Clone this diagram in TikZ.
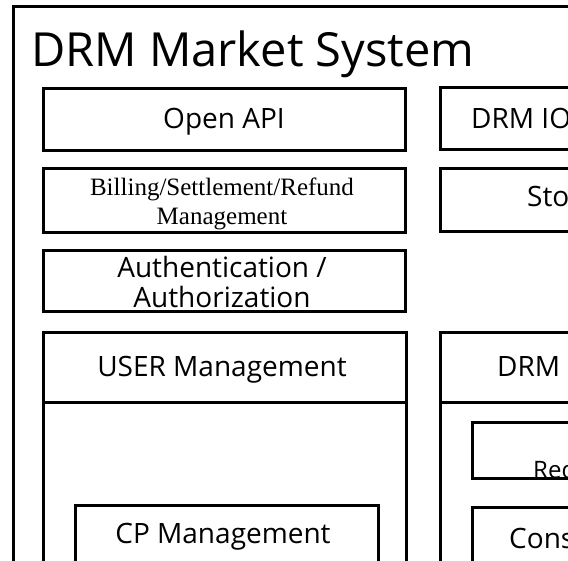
\documentclass[tikz,border=0pt]{standalone}
\usepackage{fontspec}
\setmainfont{Open Sans}
\newfontfamily\serifb{Liberation Serif}
\begin{document}
\begin{tikzpicture}[x=1pt,y=-1pt,
  box/.style={line width=3pt},
  lbl/.style={inner sep=0pt, anchor=base, font=\fontsize{28}{30}\selectfont},
  lblw/.style={inner sep=0pt, anchor=base west, font=\fontsize{28}{30}\selectfont}]
\useasboundingbox (0,0) rectangle (568,561);
\clip (0,0) rectangle (568,561);
% outer frame
\draw[box] (13,7) rectangle (640,640);
\node[anchor=base west, inner sep=0pt, font=\fontsize{47}{50}\selectfont] (title) at (31,67) {DRM Market System};
% left column
\draw[box] (43,89) rectangle (405,151);
\node[lbl] (openapi) at (224,129) {Open API};
\draw[box] (43,169) rectangle (405,233);
\node[inner sep=0pt, anchor=base, align=center, font=\serifb\fontsize{25}{29}\selectfont] (billing) at (222,225) {Billing/Settlement/Refund\\Management};
\draw[box] (43,251) rectangle (405,312);
\node[lbl, align=center] (auth) at (222,308) {Authentication /\\Authorization};
\draw[box] (43,333) rectangle (406,640);
\draw[box] (43,403) -- (406,403);
\node[lbl] (user) at (222,377) {USER Management};
\draw[box] (75,505) rectangle (378,640);
\node[lbl] (cp) at (223,543) {CP Management};
% right column (cropped)
\draw[box] (440,88) rectangle (640,150);
\node[lblw] (drmio) at (471,129) {DRM IO};
\draw[box] (440,169) rectangle (640,232);
\node[lblw] (sto) at (527,207) {Sto};
\draw[box] (440,333) rectangle (640,640);
\draw[box] (440,403) -- (640,403);
\node[lblw] (drm) at (497,377) {DRM};
\draw[box] (472,423) rectangle (640,478);
\node[lblw, font=\fontsize{24}{26}\selectfont] (req) at (533,478) {Req};
\draw[box] (472,507) rectangle (640,640);
\node[lblw] (cons) at (509,548) {Cons};
\end{tikzpicture}
\end{document}
